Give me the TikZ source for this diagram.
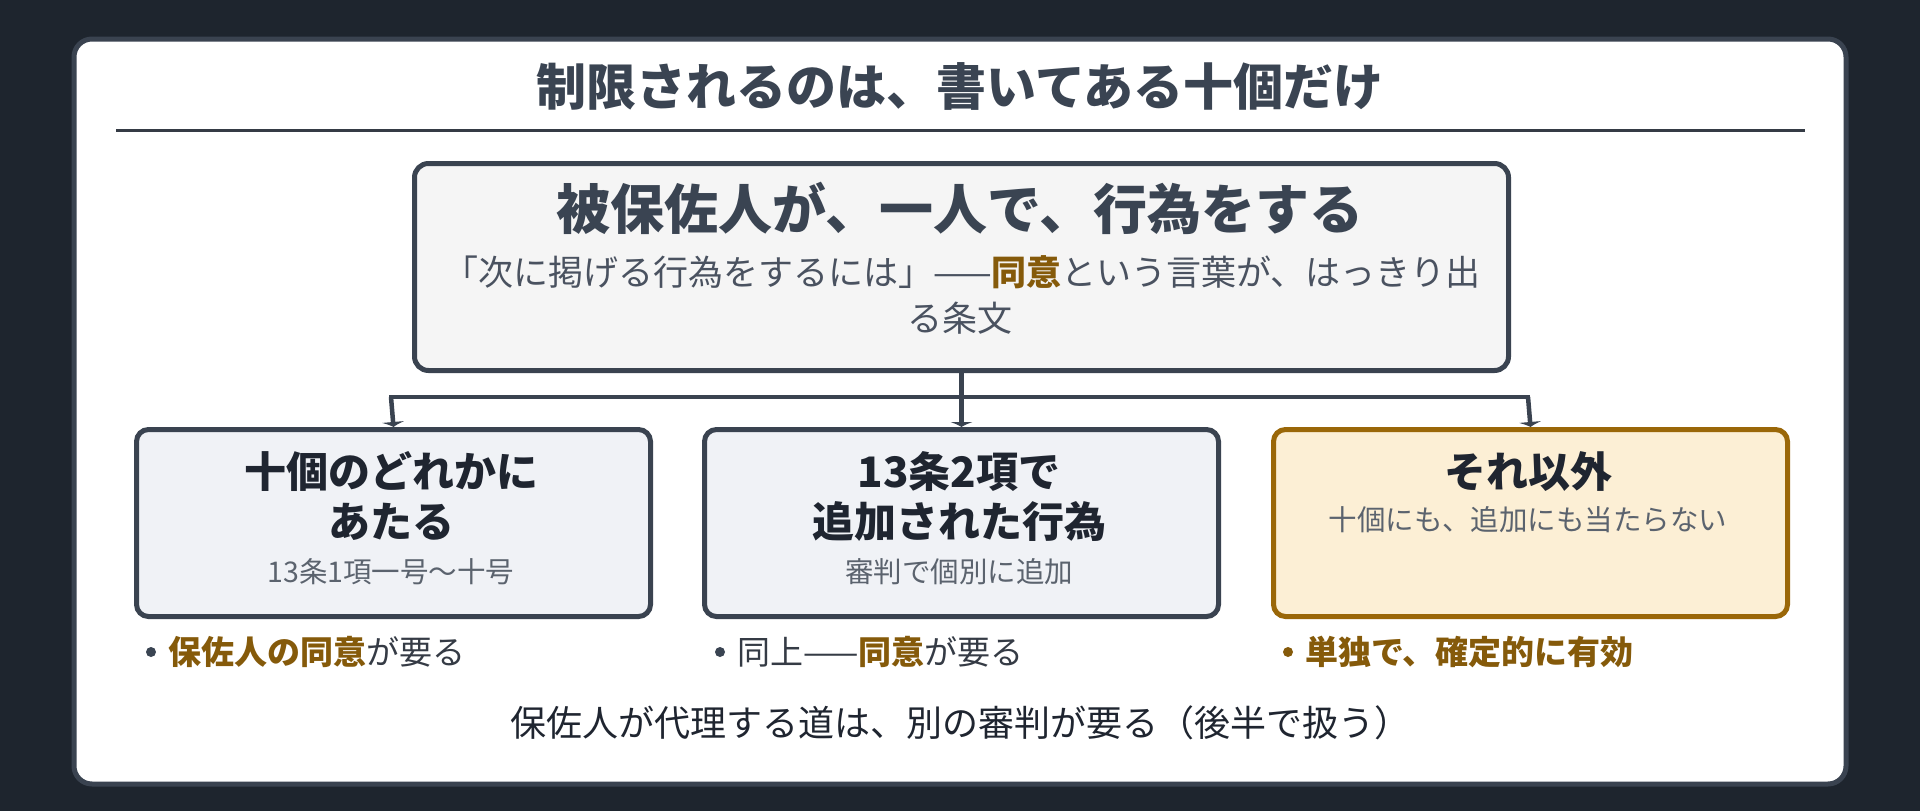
\documentclass[tikz,border=0pt]{standalone}
\usepackage{fontspec}
\setmainfont{Noto Sans CJK JP}
\usetikzlibrary{arrows.meta}
\definecolor{bgdark}{HTML}{1E252E}
\definecolor{cardline}{HTML}{3A4350}
\definecolor{slate}{HTML}{3A4452}
\definecolor{topfill}{HTML}{F5F5F5}
\definecolor{boxfill}{HTML}{F0F2F6}
\definecolor{warmfill}{HTML}{FCEFD5}
\definecolor{warmline}{HTML}{9A6708}
\definecolor{brown}{HTML}{855A0A}
\definecolor{ink}{HTML}{1F2530}
\definecolor{subgray}{HTML}{5B636E}
\definecolor{midgray}{HTML}{4A5260}
\begin{document}
\begin{tikzpicture}[x=1pt,y=-1pt,
  cardbox/.style={draw=cardline,line width=5pt,fill=white,rounded corners=18pt},
  topbox/.style={draw=cardline,line width=5pt,fill=topfill,rounded corners=14pt},
  graybox/.style={draw=cardline,line width=5pt,fill=boxfill,rounded corners=12pt},
  warmbox/.style={draw=warmline,line width=5pt,fill=warmfill,rounded corners=12pt},
  txt/.style={inner sep=0pt,anchor=base},
  txtw/.style={inner sep=0pt,anchor=base west},
  conn/.style={draw=cardline,line width=4.5pt},
  arr/.style={conn,-{Latex[length=5pt,width=24pt]}},
  dot/.style={circle,inner sep=0pt,minimum size=10pt}
]
\useasboundingbox (0,0) rectangle (1920,811);
\fill[bgdark] (0,0) rectangle (1920,811);
\draw[cardbox] (74,39) rectangle (1846,784);

% title
\node[txt,text=slate,font=\fontsize{50}{60}\selectfont\bfseries] (title) at (960,105) {制限されるのは、書いてある十個だけ};
\coordinate (ruleL) at (116,130.5);
\coordinate (ruleR) at (1805,130.5);
\draw[draw=ink!90,line width=2.5pt] (ruleL) -- (ruleR);

% top box
\node[topbox,minimum width=1094pt,minimum height=207pt,anchor=north west] (top) at (412,161) {};
\node[txt,text=slate,font=\fontsize{54}{64}\selectfont\bfseries] (topT) at (960,229.5) {被保佐人が、一人で、行為をする};
\node[txt,text=midgray,font=\fontsize{35}{42}\selectfont] (topS1) at (962,285) {「次に掲げる行為をするには」——\textcolor{brown}{\bfseries 同意}という言葉が、はっきり出};
\node[txt,text=midgray,font=\fontsize{35}{42}\selectfont] (topS2) at (960,331) {る条文};

% three boxes
\node[graybox,minimum width=514pt,minimum height=187pt,anchor=north west] (b1) at (134,427) {};
\node[graybox,minimum width=514pt,minimum height=187pt,anchor=north west] (b2) at (702,427) {};
\node[warmbox,minimum width=514pt,minimum height=187pt,anchor=north west] (b3) at (1271,427) {};

% connectors
\coordinate (jL) at (391,397);
\coordinate (jR) at (1528,397);
\draw[arr] (top.south) -- (b2.north);
\draw[conn,line cap=rect] (jL) -- (jR);
\draw[arr] (jL) -- (b1.north);
\draw[arr] (jR) -- (b3.north);

% box texts
\tikzset{bt/.style={txt,text=ink,font=\fontsize{42}{50}\selectfont\bfseries},
         bs/.style={txt,text=subgray,font=\fontsize{28.5}{34}\selectfont}}
\node[bt] (b1t1) at (391,487) {十個のどれかに};
\node[bt] (b1t2) at (391,537) {あたる};
\node[bs] (b1s) at (391,582) {13条1項一号〜十号};
\node[bt] (b2t1) at (959,487) {13条2項で};
\node[bt] (b2t2) at (959,537) {追加された行為};
\node[bs] (b2s) at (959,582) {審判で個別に追加};
\node[bt] (b3t1) at (1528,487) {それ以外};
\node[bs] (b3s) at (1528,530) {十個にも、追加にも当たらない};

% bullets
\tikzset{bl/.style={txtw,text=ink!90,font=\fontsize{33}{40}\selectfont}}
\node[dot,fill=slate] (d1) at (151,652) {};
\node[bl] (l1) at (168,664) {\textcolor{brown}{\bfseries 保佐人の同意}が要る};
\node[dot,fill=slate] (d2) at (720,652) {};
\node[bl] (l2) at (737,664) {同上——\textcolor{brown}{\bfseries 同意}が要る};
\node[dot,fill=brown] (d3) at (1288,652) {};
\node[bl] (l3) at (1305,664) {\textcolor{brown}{\bfseries 単独で、確定的に有効}};

% bottom
\node[txt,text=ink,font=\fontsize{36}{42}\selectfont] (foot) at (960,736) {保佐人が代理する道は、別の審判が要る（後半で扱う）};
\end{tikzpicture}
\end{document}
